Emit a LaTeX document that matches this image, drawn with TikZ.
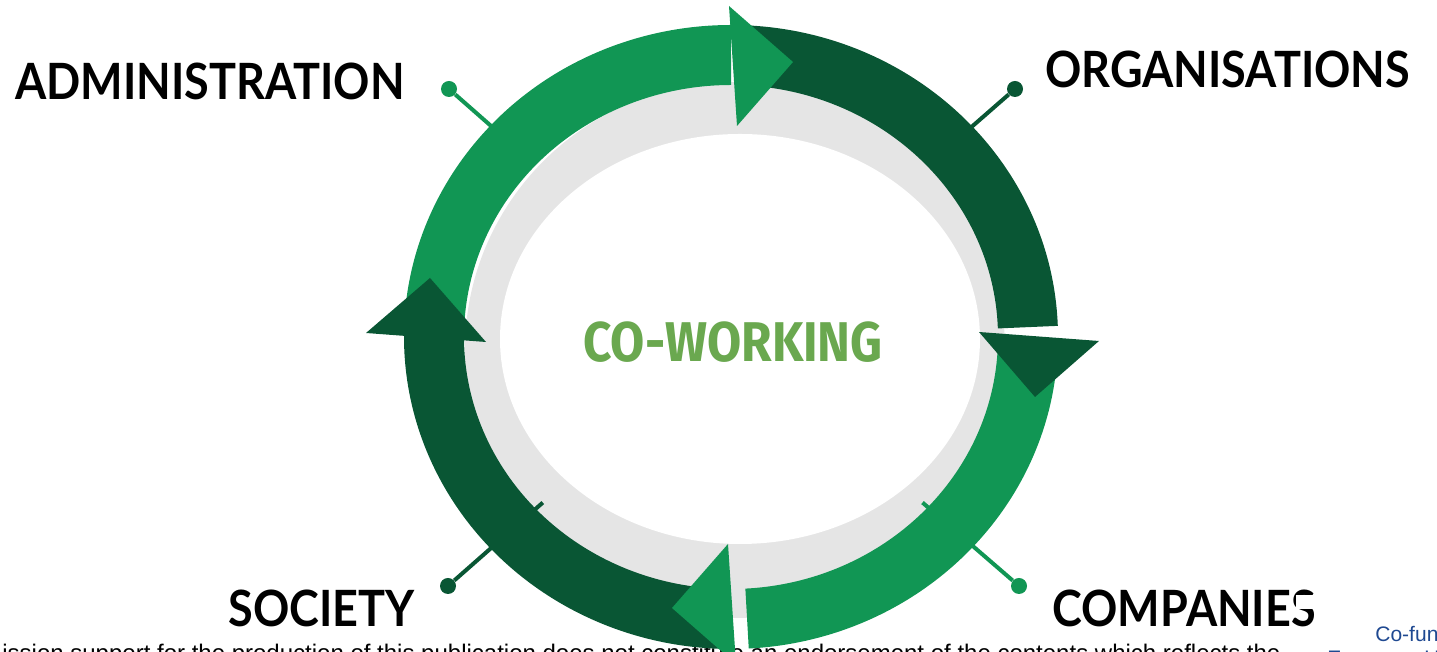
\documentclass[tikz,border=0pt]{standalone}
\usepackage{fontspec}
\setmainfont{Liberation Sans}
\newfontfamily\headfont{Lato}[FakeStretch=0.9]
\newfontfamily\coreFont{Fira Sans}[FakeStretch=0.885]
\usetikzlibrary{calc}

\definecolor{ringlight}{RGB}{17,150,84}
\definecolor{ringdark}{RGB}{9,86,52}
\definecolor{ringgray}{RGB}{229,229,229}
\definecolor{cowork}{RGB}{106,168,79}
\definecolor{eublue}{RGB}{31,73,145}

\begin{document}
\begin{tikzpicture}[x=0.5pt,y=0.5pt,
    band/.style={line width=30pt},
    head/.style={font=\headfont\bfseries\fontsize{25}{30}\selectfont, anchor=base west, inner sep=0pt},
    pin/.style={circle, inner sep=0pt, minimum size=8pt},
    stem/.style={line width=2pt},
    small/.style={font=\fontsize{12}{14}\selectfont, anchor=base west, inner sep=0pt}]
    \useasboundingbox (0,0) rectangle (1437,652);
    \clip (0,0) rectangle (1437,652);
    \coordinate (ctr) at (731,315);

    % footer (behind the ring)
    \node[small] (note) at (2,-10) {ission support for the production of this publication does not constitute an endorsement of the contents which reflects the};

    % grey disc and white centre
    \fill[ringgray] (735,302) ellipse [x radius=270, y radius=268];
    \fill[white] (740,313) ellipse [x radius=240, y radius=205];

    % pins
    \foreach \n/\x/\y/\c/\t in {adm/449/563/ringlight/0.22, org/1015/563/ringdark/0.22,
                                com/1019/66/ringlight/0.335, soc/448/66/ringdark/0.335} {
        \node[pin, fill=\c] (p\n) at (\x,\y) {};
        \coordinate (e\n) at ($(p\n)!\t!(ctr)$);
        \draw[stem, \c] (p\n) -- (e\n);
    }

    % ring
    \draw[band, ringlight] (ctr) ++(181:297 and 282) arc[start angle=181, end angle=90, x radius=297, y radius=282];
    \draw[band, ringdark] (ctr) ++(86.5:297 and 282) arc[start angle=86.5, end angle=2, x radius=297, y radius=282];
    \draw[band, ringlight] (ctr) ++(-3.7:297 and 282) arc[start angle=-3.7, end angle=-86.9, x radius=297, y radius=282];
    \draw[band, ringdark] (ctr) ++(268.5:297 and 282) arc[start angle=268.5, end angle=177, x radius=297, y radius=282];

    % arrow heads
    \fill[ringlight] (729,646) -- (793,590) -- (737,526) -- cycle;
    \fill[ringdark] (979,320) -- (1099,311) -- (1035,255) -- cycle;
    \fill[ringlight] (728,108) -- (672,44) -- (736,-12) -- cycle;
    \fill[ringdark] (430,374) -- (366,319) -- (486,310) -- cycle;

    % labels
    \node[head] (adm) at (15,552) {ADMINISTRATION};
    \node[head] (org) at (1045,564) {ORGANISATIONS};
    \node[head] (soc) at (228,25) {SOCIETY};
    \node[head] (com) at (1052,25) {COMPANIES};
    \fill[white] (1296,43) rectangle (1320,57);
    \node[font=\coreFont\bfseries\fontsize{28}{32}\selectfont, text=cowork, anchor=base, inner sep=0pt] (cw) at (733,290) {CO-WORKING};

    % logo text
    \node[small, font=\fontsize{10.5}{12}\selectfont, text=eublue] (cofund) at (1375,10) {Co-funded by the};
    \node[small, font=\fontsize{10.5}{12}\selectfont, text=eublue] (eu) at (1327,-14) {European Union};
\end{tikzpicture}
\end{document}
